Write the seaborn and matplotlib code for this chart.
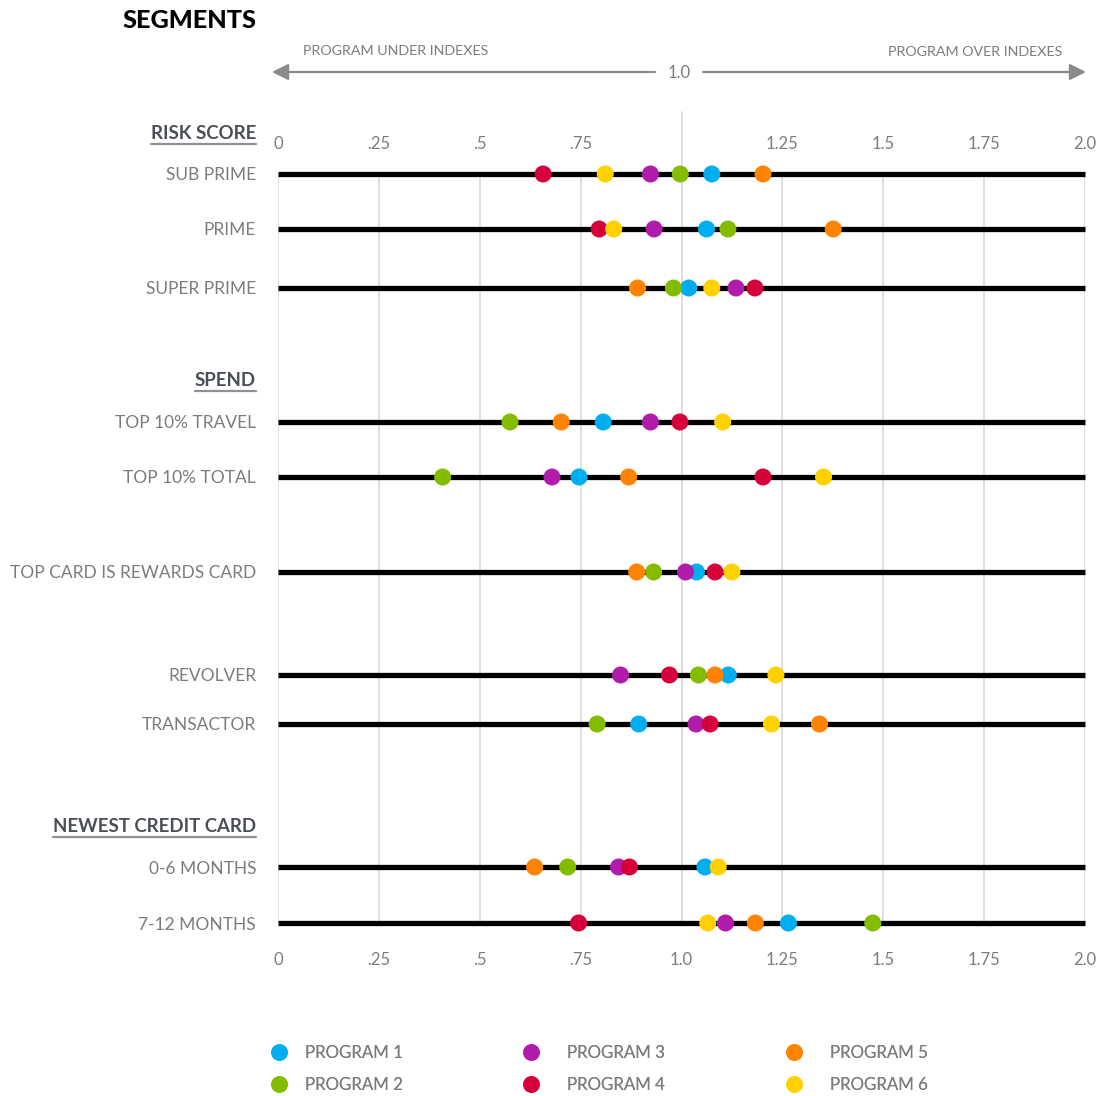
import matplotlib
matplotlib.use("Agg")
import matplotlib.pyplot as plt
from matplotlib.lines import Line2D
from matplotlib.patches import FancyArrowPatch
import seaborn as sns
import pandas as pd

# ---------------- data ----------------
segments = ["SUB PRIME", "PRIME", "SUPER PRIME",
            "TOP 10% TRAVEL", "TOP 10% TOTAL",
            "TOP CARD IS REWARDS CARD",
            "REVOLVER", "TRANSACTOR",
            "0-6 MONTHS", "7-12 MONTHS"]
programs = ["PROGRAM 1", "PROGRAM 2", "PROGRAM 3", "PROGRAM 4", "PROGRAM 5", "PROGRAM 6"]

program1 = [1.075, 1.062, 1.018, 0.806, 0.746, 1.037, 1.116, 0.894, 1.058, 1.265]
program2 = [0.997, 1.115, 0.980, 0.575, 0.408, 0.931, 1.042, 0.791, 0.718, 1.474]
program3 = [0.923, 0.932, 1.135, 0.923, 0.679, 1.010, 0.849, 1.036, 0.844, 1.109]
program4 = [0.657, 0.796, 1.182, 0.996, 1.202, 1.083, 0.970, 1.071, 0.871, 0.745]
program5 = [1.202, 1.376, 0.891, 0.702, 0.869, 0.889, 1.083, 1.342, 0.636, 1.183]
program6 = [0.811, 0.832, 1.075, 1.102, 1.352, 1.125, 1.234, 1.223, 1.091, 1.065]

group_headers = ["RISK SCORE", "SPEND", "NEWEST CREDIT CARD"]

tick_values = [0, 0.25, 0.5, 0.75, 1.0, 1.25, 1.5, 1.75, 2.0]
bottom_tick_labels = ["0", ".25", ".5", ".75", "1.0", "1.25", "1.5", "1.75", "2.0"]
top_tick_labels = ["0", ".25", ".5", ".75", "", "1.25", "1.5", "1.75", "2.0"]

# ---------------- layout / style ----------------
W, H = 1100, 1096
ROW_Y = [174, 229, 288, 422, 477, 572, 675, 724, 867, 923]   # vertical slot of each segment
HEADER_Y = [134, 381, 826]
palette = ["#00AEEF", "#84BD00", "#B11CAB", "#D6003A", "#FF8300", "#FFD100"]
GRAY_TXT = "#7c7c7c"
HEAD_TXT = "#4a4e57"
GRID = "#dcdcdc"

sns.set_style("white")
plt.rcParams["font.family"] = ["Lato", "DejaVu Sans"]

series = [program1, program2, program3, program4, program5, program6]
rows = []
for prog, vals in zip(programs, series):
    for seg, y, v in zip(segments, ROW_Y, vals):
        rows.append({"program": prog, "segment": seg, "slot": y, "index": v})
df = pd.DataFrame(rows)

fig = plt.figure(figsize=(W / 100, H / 100), dpi=100)
top_px, bot_px = ROW_Y[0], ROW_Y[-1]
ax = fig.add_axes([278 / W, 1 - bot_px / H, 807 / W, (bot_px - top_px) / H])
ax.set_xlim(0, 2)
ax.set_ylim(bot_px, top_px)
for s in ax.spines.values():
    s.set_visible(False)

# grid
ax.set_xticks(tick_values, bottom_tick_labels)
ax.grid(axis="x", color=GRID, lw=1.3, zorder=0)
ax.grid(axis="y", visible=False)
ax.axvline(1.0, ymin=0, ymax=1 + (top_px - 112) / (bot_px - top_px),
           color=GRID, lw=1.3, clip_on=False, zorder=0)

# segment lines
ax.hlines(ROW_Y, 0, 2, color="black", lw=3.8, zorder=2, clip_on=False, capstyle="butt")

# dots
sns.scatterplot(data=df, x="index", y="slot", hue="program", hue_order=programs,
                palette=palette, s=150, linewidth=0, ax=ax, legend=False,
                zorder=3, clip_on=False)
ax.set_xlabel("")
ax.set_ylabel("")

# y labels
ax.set_yticks(ROW_Y, segments)
ax.tick_params(axis="y", length=0, pad=15.8, labelsize=12.5, labelcolor=GRAY_TXT)
ax.tick_params(axis="x", length=0, pad=21, labelsize=12, labelcolor=GRAY_TXT)

sec = ax.secondary_xaxis("top")
sec.set_xticks(tick_values, top_tick_labels)
sec.tick_params(axis="x", length=0, pad=16, labelsize=12, labelcolor=GRAY_TXT)
for s in sec.spines.values():
    s.set_visible(False)

# headers with underline
trans_y = ax.get_yaxis_transform()
head_texts = []
for name, y in zip(group_headers, HEADER_Y):
    t = ax.text(-22 / 807, y, name, transform=trans_y, ha="right", va="center",
                fontsize=13.4, fontweight="bold", color=HEAD_TXT, clip_on=False)
    head_texts.append(t)

fig.text(256 / W, 1 - 21 / H, "SEGMENTS", ha="right", va="center",
         fontsize=18.2, fontweight="black", color="black")

# arrow header
ay = 1 - 72 / H
arrow_kw = dict(arrowstyle="-|>,head_length=0.7,head_width=0.35", color="#8a8a8a", lw=1.6,
                shrinkA=0, shrinkB=0)
fig.add_artist(FancyArrowPatch((655 / W, ay), (272 / W, ay),
               transform=fig.transFigure, mutation_scale=14, **arrow_kw))
fig.add_artist(FancyArrowPatch((703 / W, ay), (1086 / W, ay),
               transform=fig.transFigure, mutation_scale=14, **arrow_kw))
fig.text(679 / W, 1 - 73 / H, "1.0", ha="center", va="center", fontsize=12, color=GRAY_TXT)
fig.text(303 / W, 1 - 51 / H, "PROGRAM UNDER INDEXES", ha="left", va="center",
         fontsize=10.3, color=GRAY_TXT)
fig.text(1062 / W, 1 - 52 / H, "PROGRAM OVER INDEXES", ha="right", va="center",
         fontsize=10.3, color=GRAY_TXT)

# legend: one block per column, matching the original spacing
handles = [Line2D([], [], marker="o", ls="", markersize=12, markeredgewidth=0,
                  color=c, label=p) for p, c in zip(programs, palette)]
fs = 12.2
LEG_COL_LEFT = [270.5, 522.5, 785.5]
LEG_TEXT_PAD = [1.05, 1.64, 1.64]
leg_top = 1 - 1045 / H
for i, (x0, pad) in enumerate(zip(LEG_COL_LEFT, LEG_TEXT_PAD)):
    leg = fig.legend(handles=handles[2 * i:2 * i + 2], ncol=1, loc="upper left",
                     bbox_to_anchor=(x0 / W, leg_top), frameon=False, fontsize=fs,
                     labelcolor=GRAY_TXT, handlelength=1.0, handletextpad=pad,
                     labelspacing=0.95, borderpad=0, borderaxespad=0)
    fig.add_artist(leg)

# underlines below headers
fig.canvas.draw()
renderer = fig.canvas.get_renderer()
for t in head_texts:
    bb = t.get_window_extent(renderer)
    yline = bb.y0 - 2
    fig.add_artist(Line2D([bb.x0 / W, bb.x1 / W], [yline / H, yline / H],
                          transform=fig.transFigure, color="#8e9096", lw=1.6))

fig.savefig("out.png", dpi=100)
